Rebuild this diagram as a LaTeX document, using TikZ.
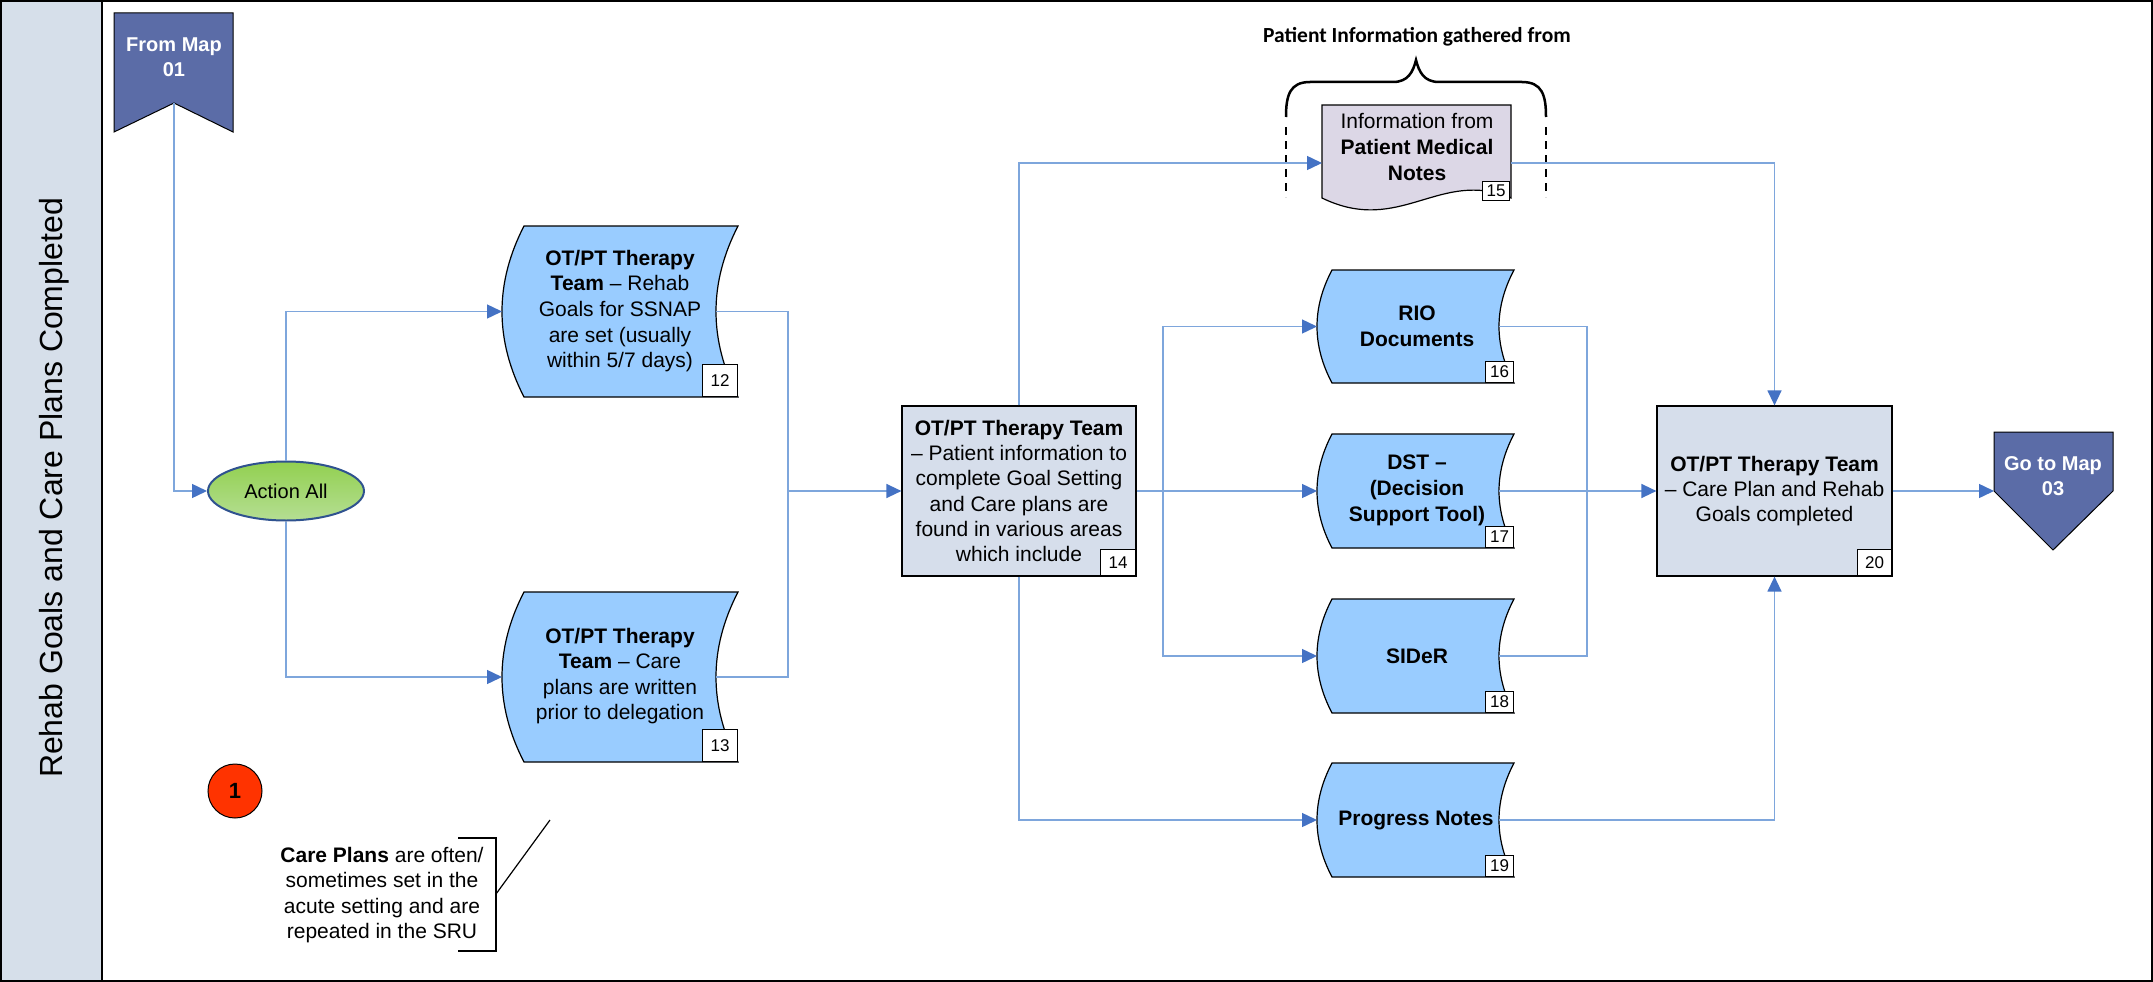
\documentclass[tikz,border=0pt]{standalone}
\usepackage{fontspec}
\setmainfont{Liberation Sans}
\newfontfamily\calfont{Carlito}
\usetikzlibrary{arrows.meta,shapes.geometric}
\definecolor{lanefill}{HTML}{D6DFEA}
\definecolor{sdblue}{HTML}{99CCFF}
\definecolor{boxgray}{HTML}{D6DEEB}
\definecolor{docfill}{HTML}{DCD7E6}
\definecolor{bannerblue}{HTML}{5B6CA7}
\definecolor{lineblue}{HTML}{7EA6DC}
\definecolor{arrowblue}{HTML}{4472C4}
\definecolor{markred}{HTML}{FF3300}
\definecolor{ellborder}{HTML}{2F528F}
\definecolor{greentop}{HTML}{92D050}
\definecolor{greenbot}{HTML}{B5DE93}
\newcommand{\sdshape}[6]{%
  \pgfmathsetmacro\sdya{#3+(#5-#3)/3}%
  \pgfmathsetmacro\sdyb{#3+2*(#5-#3)/3}%
  \pgfmathsetmacro\sdym{(#3+#5)/2}%
  \pgfmathsetmacro\sdxr{#4-#6*4/3}%
  \pgfmathsetmacro\sdxl{#2-#6*4/3}%
  \pgfmathsetmacro\sdxi{#2-#6}%
  \pgfmathsetmacro\sdxo{#4-#6}%
  \draw[sdstyle] (#2,#3) -- (#4,#3) .. controls (\sdxr,\sdya) and (\sdxr,\sdyb) .. (#4,#5) -- (#2,#5) .. controls (\sdxl,\sdyb) and (\sdxl,\sdya) .. (#2,#3) -- cycle;
  \coordinate (#1-in) at (\sdxi,\sdym);
  \coordinate (#1-out) at (\sdxo,\sdym);
}
\tikzset{
  sdstyle/.style={fill=sdblue, draw=black, line width=1.2pt},
  txt/.style={align=center, inner sep=0pt, font=\fontsize{21}{25.6}\selectfont},
  btxt/.style={align=center, inner sep=0pt, font=\bfseries\fontsize{21}{26}\selectfont},
  numbox/.style={draw=black, fill=white, line width=1pt, inner sep=0pt, font=\fontsize{17}{19}\selectfont},
  rectbox/.style={draw=black, fill=boxgray, line width=1.2pt, align=center, inner sep=0pt, font=\fontsize{21}{25.3}\selectfont},
  conn/.style={draw=lineblue, line width=1.4pt},
  arr/.style={conn, -{Triangle[length=15pt,width=14pt,color=arrowblue]}},
  bannertxt/.style={text=white, align=center, inner sep=0pt, font=\bfseries\fontsize{20}{25}\selectfont}
}
\begin{document}
\begin{tikzpicture}[x=1pt,y=-1pt]
\useasboundingbox (0,0) rectangle (2153,982);
% frame and lane
\fill[white] (0,0) rectangle (2153,982);
\fill[lanefill] (2,2) rectangle (102,980);
\draw[line width=2pt] (1,1) rectangle (2152,981);
\draw[line width=2pt] (102,1) -- (102,981);
\node[rotate=90, inner sep=0pt, font=\fontsize{32}{36}\selectfont] (lane) at (54,488) {Rehab Goals and Care Plans Completed};

% From Map 01
\draw[fill=bannerblue, draw=black, line width=1pt] (114,13) -- (233,13) -- (233,132) -- (174,103) -- (114,132) -- cycle;
\node[bannertxt] (from01) at (174,57) {From Map\\01};
\coordinate (from01-n) at (174,103);

% Action All
\node[ellipse, draw=ellborder, line width=2pt, top color=greentop, bottom color=greenbot, minimum width=156pt, minimum height=59pt, inner sep=0pt, font=\fontsize{20}{24}\selectfont] (action) at (286,491) {Action All};

% Box 12 and 13
\sdshape{s12}{524}{226}{738}{397}{22}
\node[txt] (b12) at (620,311) {\textbf{OT/PT Therapy}\\\textbf{Team} -- Rehab\\Goals for SSNAP\\are set (usually\\within 5/7 days)};
\node[numbox, minimum width=35pt, minimum height=32pt, anchor=south east] (n12) at (738,397) {12};
\sdshape{s13}{524}{592}{738}{762}{22}
\node[txt] (b13) at (620,676) {\textbf{OT/PT Therapy}\\\textbf{Team} -- Care\\plans are written\\prior to delegation};
\node[numbox, minimum width=35pt, minimum height=32pt, anchor=south east] (n13) at (738,762) {13};

% Box 14
\node[rectbox, minimum width=234pt, minimum height=170pt] (b14) at (1019,491) {\textbf{OT/PT Therapy Team}\\-- Patient information to\\complete Goal Setting\\and Care plans are\\found in various areas\\which include};
\node[numbox, minimum width=35pt, minimum height=26pt, anchor=south east] (n14) at (1136,576) {14};

% Brace and label
\node[inner sep=0pt, font=\calfont\bfseries\fontsize{21.5}{25}\selectfont] (bracelbl) at (1417,37) {Patient Information gathered from};
\draw[line width=2.5pt] (1286,117) .. controls (1286,95) and (1290,82) .. (1310,82) -- (1393,82) .. controls (1408,82) and (1413,72) .. (1416,60) .. controls (1419,72) and (1424,82) .. (1439,82) -- (1522,82) .. controls (1542,82) and (1546,95) .. (1546,117);
\draw[line width=2.5pt, dash pattern=on 8pt off 6pt] (1286,127) -- (1286,197);
\draw[line width=2.5pt, dash pattern=on 8pt off 6pt] (1546,127) -- (1546,197);

% Box 15 document
\draw[fill=docfill, draw=black, line width=1.2pt] (1322,105) -- (1511,105) -- (1511,198) .. controls (1440,168) and (1400,236) .. (1322,198) -- cycle;
\node[txt] (b15) at (1417,147) {Information from\\\textbf{Patient Medical}\\\textbf{Notes}};
\node[numbox, minimum width=27pt, minimum height=19pt, anchor=south east] (n15) at (1510,201) {15};
\coordinate (b15-in) at (1322,163);
\coordinate (b15-out) at (1511,163);

% Boxes 16-19
\sdshape{s16}{1332}{270}{1514}{383}{15}
\node[btxt] (b16) at (1417,326) {RIO\\Documents};
\node[numbox, minimum width=28pt, minimum height=21pt, anchor=south east] (n16) at (1514,383) {16};
\sdshape{s17}{1332}{434}{1514}{548}{15}
\node[btxt] (b17) at (1417,490) {DST --\\(Decision\\Support Tool)};
\node[numbox, minimum width=28pt, minimum height=21pt, anchor=south east] (n17) at (1514,548) {17};
\sdshape{s18}{1332}{599}{1514}{713}{15}
\node[btxt] (b18) at (1417,656) {SIDeR};
\node[numbox, minimum width=28pt, minimum height=21pt, anchor=south east] (n18) at (1514,713) {18};
\sdshape{s19}{1332}{763}{1514}{877}{15}
\node[btxt] (b19) at (1416,820) {Progress Notes};
\node[numbox, minimum width=28pt, minimum height=21pt, anchor=south east] (n19) at (1514,877) {19};

% Box 20
\node[rectbox, minimum width=235pt, minimum height=170pt] (b20) at (1774.5,491) {\textbf{OT/PT Therapy Team}\\-- Care Plan and Rehab\\Goals completed};
\node[numbox, minimum width=34pt, minimum height=26pt, anchor=south east] (n20) at (1892,576) {20};

% Go to Map 03
\draw[fill=bannerblue, draw=black, line width=1pt] (1994,432) -- (2113,432) -- (2113,491) -- (2053,550) -- (1994,491) -- cycle;
\node[bannertxt] (goto) at (2053,476) {Go to Map\\03};
\coordinate (goto-in) at (1994,491);

% marker and note
\node[circle, fill=markred, draw=black, line width=1pt, minimum size=54pt, inner sep=0pt, font=\bfseries\fontsize{22}{24}\selectfont] (mark1) at (235,791) {1};
\node[txt] (note) at (382,895) {\textbf{Care Plans} are often/\\sometimes set in the\\acute setting and are\\repeated in the SRU};
\draw[line width=1.2pt] (458,838) -- (496,838) -- (496,951) -- (458,951);
\coordinate (notebr) at (496,894);
\coordinate (notetip) at (550,820);
\draw[line width=1.2pt] (notebr) -- (notetip);

% connectors
\draw[arr] (from01-n) |- (action.west);
\draw[arr] (action.north) |- (s12-in);
\draw[arr] (action.south) |- (s13-in);
\coordinate (j1) at (788,491);
\draw[conn] (s12-out) -| (j1);
\draw[conn] (s13-out) -| (j1);
\draw[arr] (j1) -- (b14.west);
\draw[arr] (b14.north) |- (b15-in);
\coordinate (j2) at (1163,491);
\draw[arr] (b14.east) -- (s17-in);
\draw[arr] (j2) |- (s16-in);
\draw[arr] (j2) |- (s18-in);
\draw[arr] (b14.south) |- (s19-in);
\coordinate (j3) at (1587,491);
\draw[conn] (s16-out) -| (j3);
\draw[conn] (s18-out) -| (j3);
\draw[arr] (s17-out) -- (b20.west);
\draw[arr] (b15-out) -| (b20.north);
\draw[arr] (s19-out) -| (b20.south);
\draw[arr] (b20.east) -- (goto-in);
\end{tikzpicture}
\end{document}
